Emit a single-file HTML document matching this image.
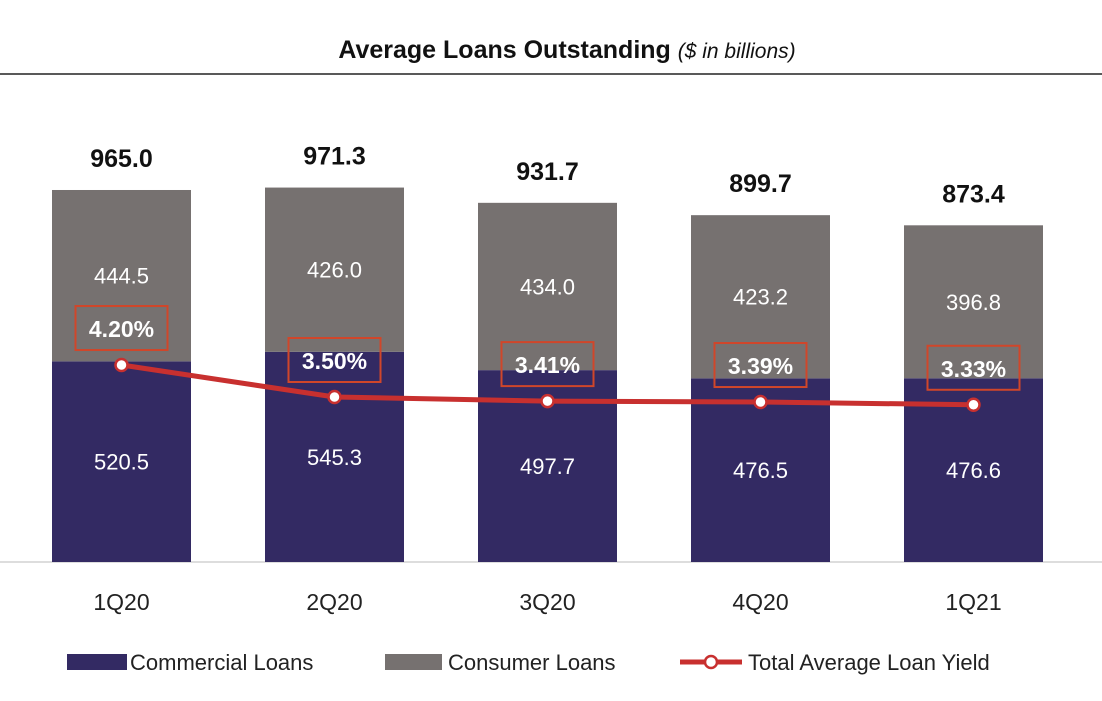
<!DOCTYPE html>
<html><head><meta charset="utf-8"><style>
body{margin:0;background:#fff;font-family:"Liberation Sans",sans-serif;}
</style></head><body>
<svg id="chart" width="1102" height="696" xmlns="http://www.w3.org/2000/svg">
<text x="567" y="58" text-anchor="middle" font-size="25" font-weight="bold" fill="#111">Average Loans Outstanding <tspan font-weight="normal" font-style="italic" font-size="21">($ in billions)</tspan></text>
<line x1="0" y1="74" x2="1102" y2="74" stroke="#222" stroke-width="1.5"/>
<line x1="0" y1="562" x2="1102" y2="562" stroke="#bbb" stroke-width="1"/>
<g id="bars"></g><g id="line"></g>
<g>
<rect x="67" y="654" width="60" height="16" fill="#332a63"/>
<text x="130" y="670" font-size="22" fill="#222">Commercial Loans</text>
<rect x="385" y="654" width="57" height="16" fill="#767170"/>
<text x="448" y="670" font-size="22" fill="#222">Consumer Loans</text>
<line x1="680" y1="662" x2="742" y2="662" stroke="#c8302f" stroke-width="5"/>
<circle cx="711" cy="662" r="6" fill="#fff" stroke="#c8302f" stroke-width="2.5"/>
<text x="748" y="670" font-size="22" fill="#222">Total Average Loan Yield</text>
</g>
</svg>
<script>
const categories=["1Q20","2Q20","3Q20","4Q20","1Q21"];
const commercial=[520.5,545.3,497.7,476.5,476.6];
const consumer=[444.5,426.0,434.0,423.2,396.8];
const yields=[4.20,3.50,3.41,3.39,3.33];
const NS="http://www.w3.org/2000/svg";
const base=562,scale=0.3855,bw=139;
const xc=i=>121.5+i*213;
const yv=v=>base-v*scale;
const yy=v=>397+(3.50-v)*45.7;
function mk(t,a,p){const e=document.createElementNS(NS,t);for(const k in a)e.setAttribute(k,a[k]);p.appendChild(e);return e;}
const gb=document.getElementById('bars'),gl=document.getElementById('line');
categories.forEach((c,i)=>{
 const x=xc(i)-bw/2,ct=yv(commercial[i]),tot=commercial[i]+consumer[i],tt=yv(tot);
 let r=mk('rect',{x:x,y:ct,width:bw,height:base-ct,fill:'#332a63'},gb);
 
 
 r=mk('rect',{x:x,y:tt,width:bw,height:ct-tt,fill:'#767170'},gb);
 
 
 let t=mk('text',{x:xc(i),y:(ct+base)/2+8,'text-anchor':'middle','font-size':22,fill:'#fff'},gb);t.textContent=commercial[i].toFixed(1);
 
 
 t=mk('text',{x:xc(i),y:(ct+tt)/2+8,'text-anchor':'middle','font-size':22,fill:'#fff'},gb);t.textContent=consumer[i].toFixed(1);
 
 
 t=mk('text',{x:xc(i),y:tt-23,'text-anchor':'middle','font-size':25,'font-weight':'bold',fill:'#111'},gb);t.textContent=tot.toFixed(1);
 
 
 t=mk('text',{x:xc(i),y:610,'text-anchor':'middle','font-size':23,fill:'#222'},gb);t.textContent=c;
 
 
});
const pts=yields.map((v,i)=>xc(i)+','+yy(v)).join(' ');
const pl=mk('polyline',{points:pts,fill:'none',stroke:'#c8302f','stroke-width':5,'stroke-linejoin':'round'},gl);


yields.forEach((v,i)=>{
 const y=yy(v);
 const c=mk('circle',{cx:xc(i),cy:y,r:6,fill:'#fff',stroke:'#c8302f','stroke-width':2.5},gl);
 
 
 const b=mk('rect',{x:xc(i)-46,y:y-59,width:92,height:44,fill:'none',stroke:'#d0462a','stroke-width':2},gl);
 
 
 const t=mk('text',{x:xc(i),y:y-28,'text-anchor':'middle','font-size':23,'font-weight':'bold',fill:'#fff'},gl);
 t.textContent=v.toFixed(2)+'%';
 
 
});
</script>
</body></html>
